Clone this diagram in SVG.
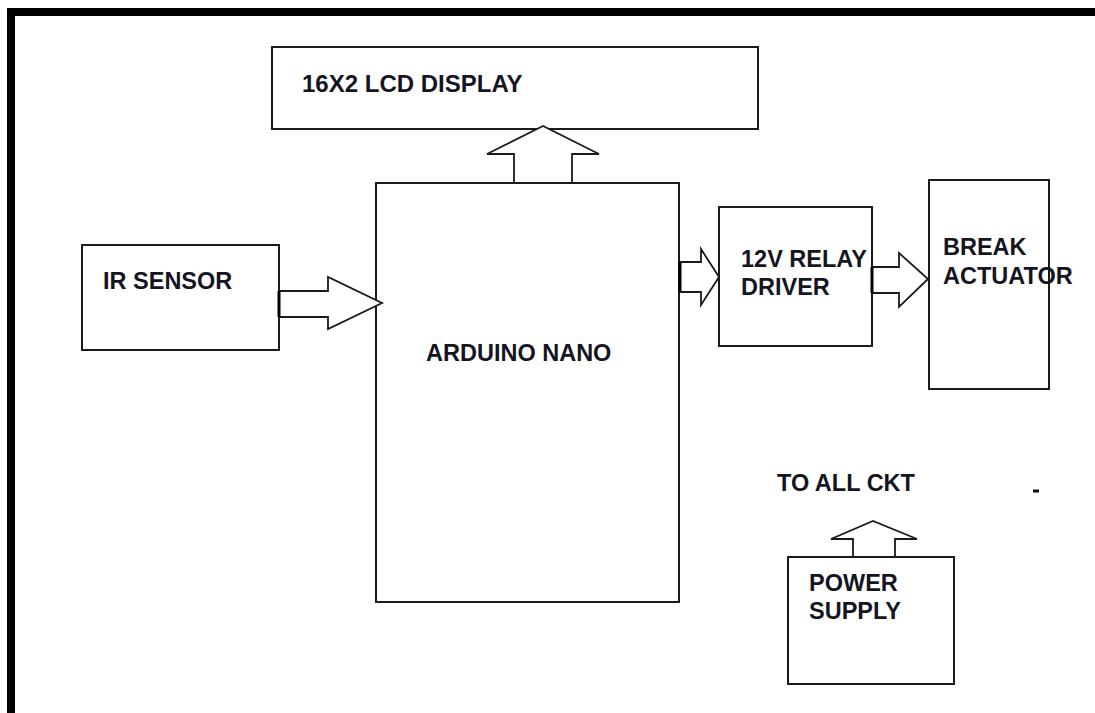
<svg xmlns="http://www.w3.org/2000/svg" width="1095" height="713" viewBox="0 0 1095 713">
<style>
.box{fill:#fff;stroke:#1a1a1a;stroke-width:2}
.arr{fill:#fff;stroke:#1a1a1a;stroke-width:1.8;stroke-linejoin:miter}
.lbl{font-family:"Liberation Sans",Arial,sans-serif;font-weight:bold;font-size:23.5px;fill:#15151f}
</style>
<rect x="0" y="0" width="1095" height="713" fill="#fff"/>
<g id="frame">
<rect x="7" y="8" width="1088" height="8" fill="#000"/>
<rect x="7" y="8" width="8" height="705" fill="#000"/>
</g>
<g id="lcd">
<rect class="box" x="272" y="47" width="486" height="82"/>
<text class="lbl" x="302" y="92" style="font-size:24px">16X2 LCD DISPLAY</text>
</g>
<g id="ir">
<rect class="box" x="82" y="245" width="197" height="105"/>
<text class="lbl" x="103" y="289">IR SENSOR</text>
</g>
<g id="arduino">
<rect class="box" x="376" y="183" width="303" height="419"/>
<text class="lbl" x="426" y="361">ARDUINO NANO</text>
</g>
<g id="relay">
<rect class="box" x="719" y="207" width="153" height="139"/>
<text class="lbl" x="741" y="267">12V RELAY</text>
<text class="lbl" x="741" y="295">DRIVER</text>
</g>
<g id="break">
<rect class="box" x="929" y="180" width="120" height="209"/>
<text class="lbl" x="943" y="255">BREAK</text>
<text class="lbl" x="943" y="284">ACTUATOR</text>
</g>
<g id="power">
<rect class="box" x="788" y="557" width="166" height="127"/>
<text class="lbl" x="809" y="591">POWER</text>
<text class="lbl" x="809" y="619">SUPPLY</text>
</g>
<g id="toall">
<text class="lbl" x="777" y="491">TO ALL CKT</text>
<rect x="1033" y="489.5" width="6" height="3" fill="#111"/>
</g>
<g id="connectors">
<polygon class="arr" points="279,291 328,291 328,277 382,303 328,329 328,317 279,317"/>
<line x1="279" y1="291" x2="279" y2="317" stroke="#000" stroke-width="3"/>
<polygon class="arr" points="514,183 514,154 487,154 543,126 599,154 572,154 572,183"/>
<polygon class="arr" points="679,262 701,262 701,249 719,277 701,305 701,292 679,292"/>
<line x1="680" y1="262" x2="680" y2="292" stroke="#000" stroke-width="3"/>
<polygon class="arr" points="872,267 899,267 899,253 928,279 899,307 899,293 872,293"/>
<line x1="872" y1="267" x2="872" y2="293" stroke="#000" stroke-width="3"/>
<polygon class="arr" points="853,557 853,539 831,539 873,521 917,539 895,539 895,557"/>
</g>
</svg>
